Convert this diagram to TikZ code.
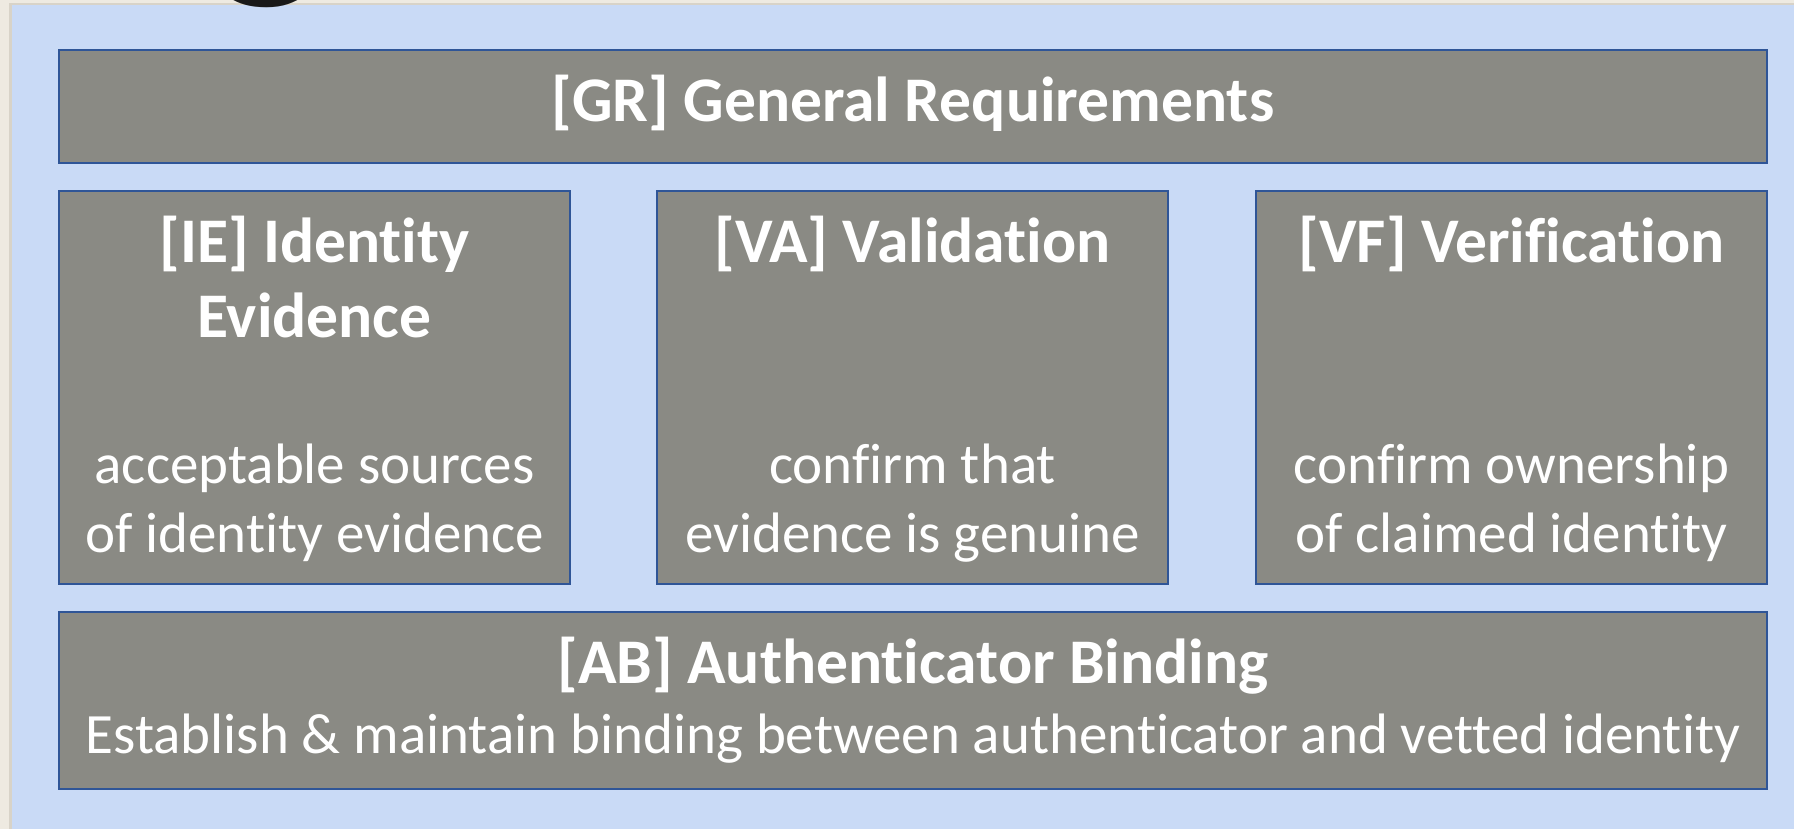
\documentclass[tikz,border=0pt]{standalone}
\usepackage{fontspec}
\setmainfont[Ligatures=NoCommon]{Carlito}
\definecolor{pagebg}{HTML}{EEEAE1}
\definecolor{panelbg}{HTML}{C9DAF6}
\definecolor{boxfill}{HTML}{8A8A84}
\definecolor{boxline}{HTML}{2F5597}
\definecolor{shadowc}{HTML}{D8D3C8}
\begin{document}
\begin{tikzpicture}[x=0.5pt,y=-0.5pt,
  panelbox/.style={draw=boxline, line width=1.4pt, fill=boxfill, rectangle, inner sep=0pt, outer sep=0pt},
  ttl/.style={font=\bfseries\fontsize{31.8pt}{38pt}\selectfont, text=white, anchor=base, inner sep=0pt},
  dsc/.style={font=\fontsize{28.5pt}{34pt}\selectfont, text=white, anchor=base, inner sep=0pt}]
\useasboundingbox (0,0) rectangle (1794,829);
% page background and panel
\fill[pagebg] (0,0) rectangle (1794,829);
\fill[shadowc] (9,3) rectangle (1794,829);
\fill[panelbg] (12,5) rectangle (1794,829);
% partially visible title letter
\node[font=\fontsize{120pt}{130pt}\selectfont, text=black!90, anchor=base, inner sep=0pt] (ttlg) at (268,-33) {g};
% boxes
\node[panelbox, minimum width=854pt, minimum height=56.5pt] (gr) at (913,106.5) {};
\node[panelbox, minimum width=255.5pt, minimum height=196.5pt] (ie) at (314.5,387.5) {};
\node[panelbox, minimum width=255.5pt, minimum height=196.5pt] (va) at (912.5,387.5) {};
\node[panelbox, minimum width=255.5pt, minimum height=196.5pt] (vf) at (1511.5,387.5) {};
\node[panelbox, minimum width=854pt, minimum height=88.5pt] (ab) at (913,700.5) {};
% texts
\node[ttl] (grt) at (913,122) {[GR] General Requirements};
\node[ttl] (iet1) at (314.5,262) {[IE] Identity};
\node[ttl] (iet2) at (314.5,337) {Evidence};
\node[dsc] (ied1) at (314.5,483) {acceptable sources};
\node[dsc] (ied2) at (314.5,552) {of identity evidence};
\node[ttl] (vat) at (912.5,262) {[VA] Validation};
\node[dsc] (vad1) at (912.5,483) {confirm that};
\node[dsc] (vad2) at (912.5,552) {evidence is genuine};
\node[ttl] (vft) at (1511.5,262) {[VF] Verification};
\node[dsc] (vfd1) at (1511.5,483) {confirm ownership};
\node[dsc] (vfd2) at (1511.5,552) {of claimed identity};
\node[ttl] (abt) at (913,683) {[AB] Authenticator Binding};
\node[dsc] (abd) at (913,753) {Establish \& maintain binding between authenticator and vetted identity};
\end{tikzpicture}
\end{document}
